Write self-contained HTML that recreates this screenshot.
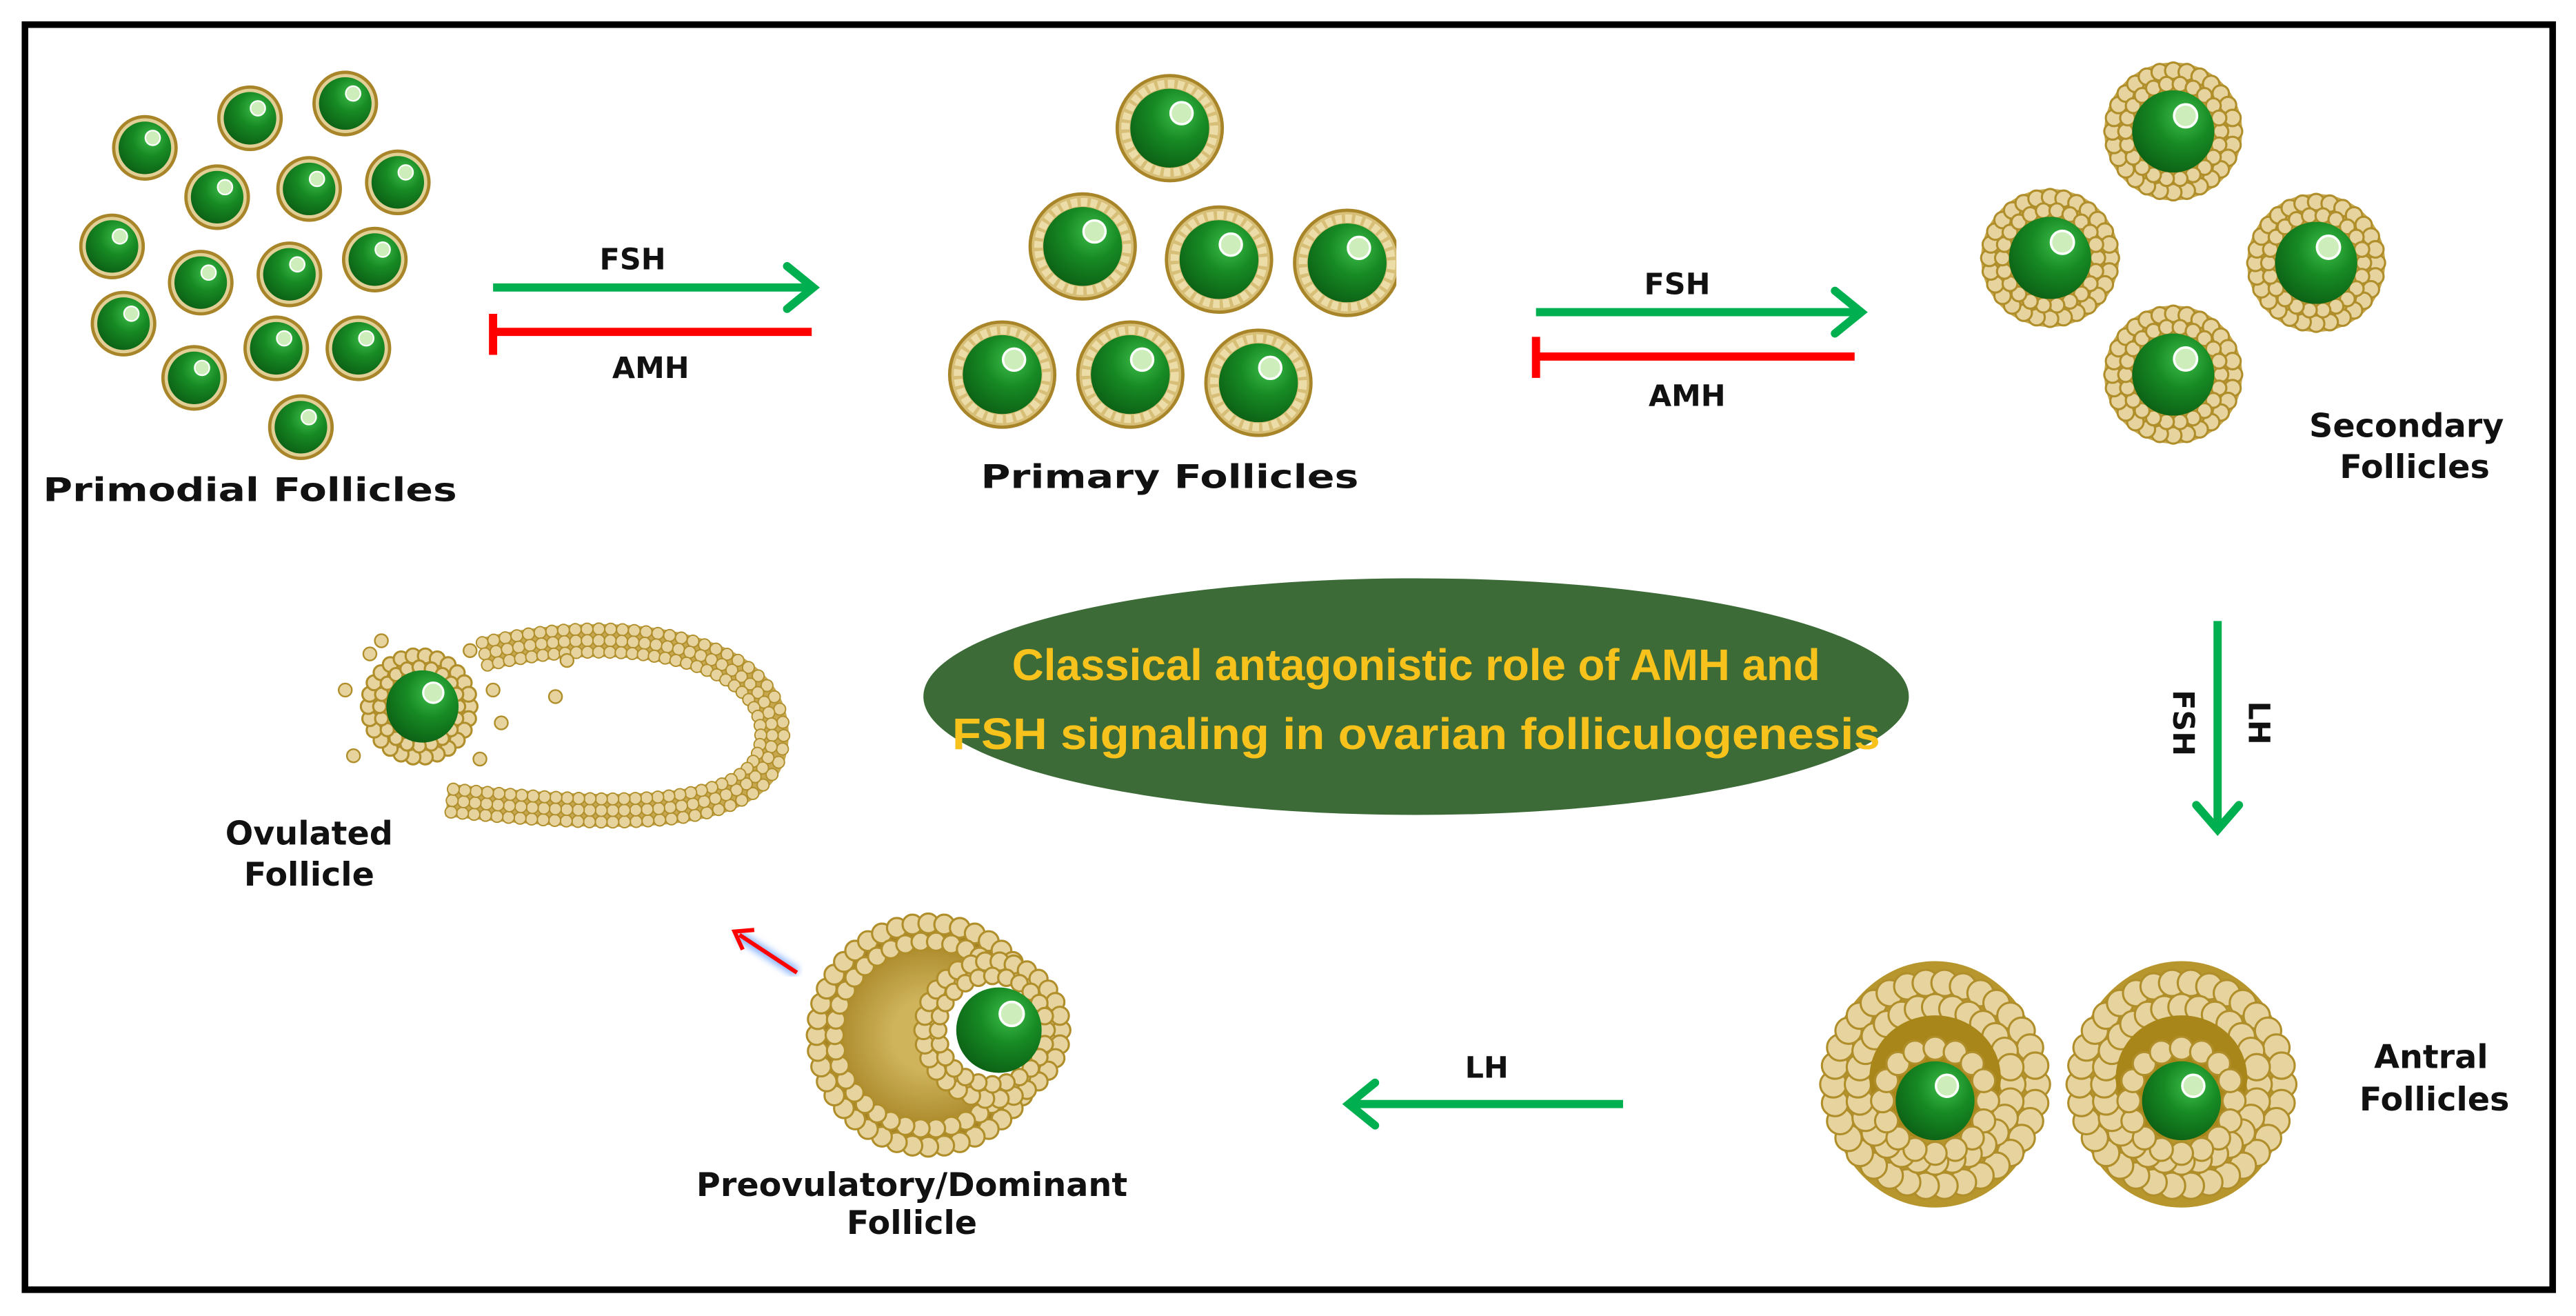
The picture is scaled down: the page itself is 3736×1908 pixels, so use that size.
<!DOCTYPE html>
<html><head><meta charset="utf-8"><style>
html,body{margin:0;padding:0;background:#fff}
svg{display:block}
text{font-family:"DejaVu Sans","Liberation Sans",sans-serif;font-weight:bold;fill:#111}
</style></head><body>
<svg id="s" width="3736" height="1908" viewBox="0 0 1568 801" xmlns="http://www.w3.org/2000/svg">
<defs>
<radialGradient id="oo" cx="0.62" cy="0.32" r="0.75">
<stop offset="0" stop-color="#3fbf4a"/><stop offset="0.45" stop-color="#178a24"/><stop offset="1" stop-color="#0b5e14"/>
</radialGradient>
<radialGradient id="an" cx="0.5" cy="0.5" r="0.5">
<stop offset="0.3" stop-color="#cfb45c"/><stop offset="1" stop-color="#9a7614"/>
</radialGradient>
<filter id="glow"><feGaussianBlur stdDeviation="2"/></filter>
</defs>
<rect x="0" y="0" width="1568" height="801" fill="#fff"/>
<rect x="15" y="15" width="1539" height="770" fill="none" stroke="#000" stroke-width="4"/>
<g id="cells"></g>

<line x1="300" y1="175" x2="493" y2="175" stroke="#00b050" stroke-width="5"/>
<polyline points="479,162 495,175 479,188" fill="none" stroke="#00b050" stroke-width="5" stroke-linecap="round"/>
<line x1="300" y1="202" x2="494" y2="202" stroke="#ff0000" stroke-width="5"/>
<line x1="300" y1="191" x2="300" y2="216" stroke="#ff0000" stroke-width="5"/>
<text x="385" y="164" font-size="18" text-anchor="middle">FSH</text>
<text x="396" y="230" font-size="18" text-anchor="middle">AMH</text>

<line x1="935" y1="190" x2="1131" y2="190" stroke="#00b050" stroke-width="5"/>
<polyline points="1117,177 1133,190 1117,203" fill="none" stroke="#00b050" stroke-width="5" stroke-linecap="round"/>
<line x1="935" y1="217" x2="1129" y2="217" stroke="#ff0000" stroke-width="5"/>
<line x1="935" y1="205" x2="935" y2="230" stroke="#ff0000" stroke-width="5"/>
<text x="1021" y="179" font-size="18" text-anchor="middle">FSH</text>
<text x="1027" y="247" font-size="18" text-anchor="middle">AMH</text>

<line x1="1350" y1="378" x2="1350" y2="503" stroke="#00b050" stroke-width="5"/>
<polyline points="1337,490 1350,505 1363,490" fill="none" stroke="#00b050" stroke-width="5" stroke-linecap="round"/>
<text transform="translate(1323,440) rotate(90)" font-size="18" text-anchor="middle">FSH</text>
<text transform="translate(1369,440) rotate(90)" font-size="18" text-anchor="middle">LH</text>

<line x1="988" y1="672" x2="823" y2="672" stroke="#00b050" stroke-width="5"/>
<polyline points="837,659 821,672 837,685" fill="none" stroke="#00b050" stroke-width="5" stroke-linecap="round"/>
<text x="905" y="656" font-size="18" text-anchor="middle">LH</text>

<line x1="485" y1="592" x2="449" y2="569" stroke="#8ab4ff" stroke-width="6" filter="url(#glow)"/>
<line x1="485" y1="592" x2="450" y2="569" stroke="#ff0000" stroke-width="2.5"/>
<polyline points="452,578 447,567 459,566" fill="none" stroke="#ff0000" stroke-width="2.5"/>

<ellipse cx="862" cy="424" rx="300" ry="72" fill="#3c6b37"/>
<text x="862" y="414" font-size="27" text-anchor="middle" textLength="492" lengthAdjust="spacingAndGlyphs" style="font-family:'Liberation Sans',sans-serif;fill:#f7c21b">Classical antagonistic role of AMH and</text>
<text x="862" y="456" font-size="27" text-anchor="middle" textLength="565" lengthAdjust="spacingAndGlyphs" style="font-family:'Liberation Sans',sans-serif;fill:#f7c21b">FSH signaling in ovarian folliculogenesis</text>

<text x="152" y="305" font-size="20" text-anchor="middle" textLength="252" lengthAdjust="spacingAndGlyphs">Primodial Follicles</text>
<text x="712" y="297" font-size="20" text-anchor="middle" textLength="230" lengthAdjust="spacingAndGlyphs">Primary Follicles</text>
<text x="1465" y="266" font-size="20" text-anchor="middle">Secondary</text>
<text x="1470" y="291" font-size="20" text-anchor="middle">Follicles</text>
<text x="1480" y="650" font-size="20" text-anchor="middle">Antral</text>
<text x="1482" y="676" font-size="20" text-anchor="middle">Follicles</text>
<text x="555" y="728" font-size="20" text-anchor="middle">Preovulatory/Dominant</text>
<text x="555" y="751" font-size="20" text-anchor="middle">Follicle</text>
<text x="188" y="514" font-size="20" text-anchor="middle">Ovulated</text>
<text x="188" y="539" font-size="20" text-anchor="middle">Follicle</text>
</svg>
<script>
var NS="http://www.w3.org/2000/svg",G=document.getElementById("cells");
function el(t,a){var e=document.createElementNS(NS,t);for(var k in a)e.setAttribute(k,a[k]);G.appendChild(e);return e;}
function oo(x,y,r){el("circle",{cx:x,cy:y,r:r,fill:"url(#oo)"});el("circle",{cx:x+r*0.3,cy:y-r*0.38,r:r*0.28,fill:"#cdeebb",stroke:"#fff","stroke-width":r*0.06});}
function ring(x,y,R,n,cr){for(var i=0;i<n;i++){var a=i/n*2*Math.PI;el("circle",{cx:x+R*Math.cos(a),cy:y+R*Math.sin(a),r:cr,fill:"#e6d39e",stroke:"#b08e2a","stroke-width":1.3});}}
[[88,90],[152,72],[210,63],[132,120],[188,115],[242,111],[68,150],[122,172],[176,167],[228,158],[75,197],[118,230],[168,212],[218,212],[183,260]].forEach(function(p){
 el("circle",{cx:p[0],cy:p[1],r:19,fill:"#e2cf96",stroke:"#a9852a","stroke-width":2});oo(p[0],p[1],16);});
[[712,78],[659,150],[742,158],[820,160],[610,228],[688,228],[766,233]].forEach(function(p){
 el("circle",{cx:p[0],cy:p[1],r:32,fill:"#d8bf78",stroke:"#a9852a","stroke-width":2});
 el("circle",{cx:p[0],cy:p[1],r:27,fill:"none",stroke:"#ecdca8","stroke-width":5,"stroke-dasharray":"4 2"});oo(p[0],p[1],24);});
el("rect",{x:850,y:120,width:20,height:80,fill:"#fff"});
[[1323,80],[1248,157],[1410,160],[1323,228]].forEach(function(p){
 el("circle",{cx:p[0],cy:p[1],r:42,fill:"#c9a94e"});ring(p[0],p[1],37,28,5);ring(p[0],p[1],29,22,4.5);oo(p[0],p[1],25);});
[[1178,660],[1328,660]].forEach(function(p){
 el("ellipse",{cx:p[0],cy:p[1],rx:66,ry:75,fill:"#b8962e"});
 ring(p[0],p[1],62,34,8);ring(p[0],p[1],47,28,8);
 el("ellipse",{cx:p[0],cy:p[1]-4,rx:40,ry:38,fill:"#a98619"});
 for(var i=0;i<16;i++){var a=i/16*2*Math.PI;el("circle",{cx:p[0]+32*Math.cos(a),cy:p[1]+10+32*Math.sin(a),r:7,fill:"#e6d39e",stroke:"#b08e2a","stroke-width":1.3});}
 oo(p[0],p[1]+10,24);});
el("circle",{cx:565,cy:630,r:72,fill:"url(#an)"});ring(565,630,68,44,6);ring(565,630,57,38,5.5);
el("circle",{cx:604,cy:627,r:46,fill:"#fff"});ring(604,627,42,30,5.5);ring(604,627,33,24,5);oo(608,627,26);
var tail=el("path",{d:"M295,398 C380,378 470,395 470,447 C470,500 380,498 272,487",fill:"none",stroke:"#c7a84f","stroke-width":20});
var tl=tail.getTotalLength();for(var d=0;d<tl;d+=7){var pt=tail.getPointAtLength(d);for(var k=-1;k<=1;k++){var p2=tail.getPointAtLength(Math.min(tl,d+1));var dx=p2.x-pt.x,dy=p2.y-pt.y,l=Math.hypot(dx,dy)||1;el("circle",{cx:pt.x-dy/l*k*7,cy:pt.y+dx/l*k*7,r:3.6,fill:"#e6d39e",stroke:"#b08e2a","stroke-width":0.8});}}
el("circle",{cx:255,cy:430,r:34,fill:"#c9a94e"});ring(255,430,31,26,4.5);ring(255,430,24,20,4);oo(257,430,22);
[[225,398],[232,390],[286,396],[300,420],[305,440],[292,462],[215,460],[210,420],[345,402],[338,424]].forEach(function(p){el("circle",{cx:p[0],cy:p[1],r:4,fill:"#e6d39e",stroke:"#b08e2a","stroke-width":1});});
</script>
</body></html>
